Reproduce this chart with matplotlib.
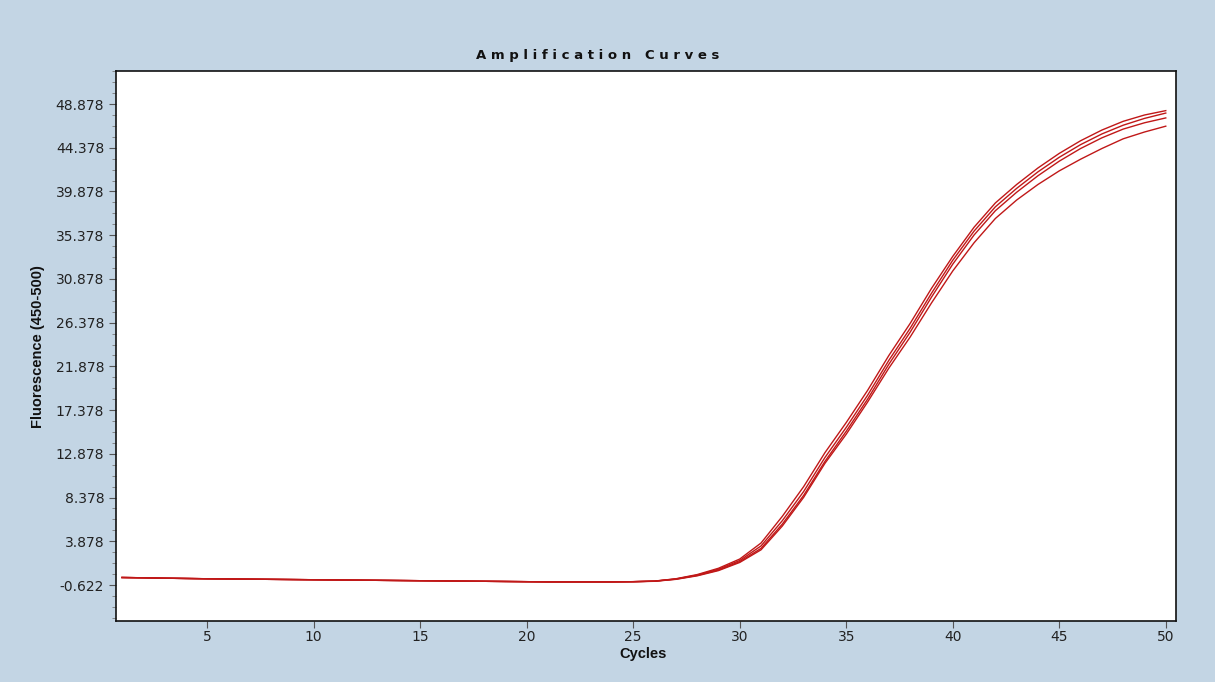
from pathlib import Path

import matplotlib

matplotlib.use("Agg")
import matplotlib.pyplot as plt
from matplotlib.ticker import FixedLocator, MultipleLocator


OUTPUT_FILE = Path("out.png")
BACKGROUND = "#c3d5e4"
CURVE_COLOUR = "#c01818"

cycles = list(range(1, 51))

# fluorescence readings per well, one value per cycle
well_a = [
    0.15, 0.12, 0.08, 0.05, 0.02, 0.00, -0.02, -0.04, -0.06, -0.08,
    -0.10, -0.12, -0.14, -0.16, -0.18, -0.20, -0.22, -0.24, -0.26, -0.28,
    -0.30, -0.30, -0.30, -0.30, -0.28, -0.22, 0.02, 0.45, 1.10, 2.05,
    3.70, 6.45, 9.50, 13.00, 16.10, 19.40, 23.00, 26.30, 29.90, 33.20,
    36.20, 38.70, 40.60, 42.30, 43.80, 45.10, 46.20, 47.10, 47.75, 48.20,
]
well_b = [
    0.15, 0.12, 0.08, 0.05, 0.02, 0.00, -0.02, -0.04, -0.06, -0.08,
    -0.10, -0.12, -0.14, -0.16, -0.18, -0.20, -0.22, -0.24, -0.26, -0.28,
    -0.30, -0.30, -0.30, -0.30, -0.28, -0.22, 0.00, 0.40, 1.00, 1.90,
    3.40, 6.00, 9.00, 12.50, 15.60, 18.90, 22.50, 25.80, 29.40, 32.80,
    35.80, 38.30, 40.20, 41.90, 43.40, 44.70, 45.80, 46.70, 47.40, 47.95,
]
well_c = [
    0.15, 0.12, 0.08, 0.05, 0.02, 0.00, -0.02, -0.04, -0.06, -0.08,
    -0.10, -0.12, -0.14, -0.16, -0.18, -0.20, -0.22, -0.24, -0.26, -0.28,
    -0.30, -0.30, -0.30, -0.30, -0.28, -0.23, -0.02, 0.36, 0.92, 1.78,
    3.15, 5.65, 8.60, 12.10, 15.20, 18.50, 22.10, 25.40, 29.00, 32.40,
    35.40, 37.90, 39.80, 41.50, 43.00, 44.30, 45.40, 46.30, 46.95, 47.45,
]
well_d = [
    0.15, 0.12, 0.08, 0.05, 0.02, 0.00, -0.02, -0.04, -0.06, -0.08,
    -0.10, -0.12, -0.14, -0.16, -0.18, -0.20, -0.22, -0.24, -0.26, -0.28,
    -0.30, -0.30, -0.30, -0.30, -0.28, -0.24, -0.04, 0.32, 0.86, 1.70,
    3.00, 5.45, 8.40, 11.90, 14.90, 18.20, 21.70, 24.90, 28.40, 31.70,
    34.60, 37.10, 39.00, 40.60, 42.00, 43.20, 44.30, 45.30, 46.00, 46.60,
]

y_ticks = [-0.622, 3.878, 8.378, 12.878, 17.378, 21.878, 26.378, 30.878,
           35.378, 39.878, 44.378, 48.878]
x_ticks = [5, 10, 15, 20, 25, 30, 35, 40, 45, 50]


def draw_chart() -> None:
    fig = plt.figure(figsize=(12.15, 6.82), dpi=100, facecolor=BACKGROUND)
    ax = fig.add_axes((0.0955, 0.0894, 0.8724, 0.8065))
    ax.set_facecolor("white")

    for well in (well_a, well_b, well_c, well_d):
        ax.plot(cycles, well, color=CURVE_COLOUR, linewidth=1.0)

    ax.set_xlim(0.72, 50.48)
    ax.set_ylim(-4.33, 52.28)

    ax.xaxis.set_major_locator(FixedLocator(x_ticks))
    ax.set_xticklabels([str(value) for value in x_ticks])
    ax.yaxis.set_major_locator(FixedLocator(y_ticks))
    ax.set_yticklabels([f"{value:.3f}" for value in y_ticks])
    ax.yaxis.set_minor_locator(FixedLocator(
        [y_ticks[0] + step * 1.125 for step in range(-3, 48)]
    ))
    ax.xaxis.set_minor_locator(MultipleLocator(1))

    ax.tick_params(axis="both", which="major", direction="out", length=5,
                   width=0.8, color="#555555", labelsize=10, labelcolor="#222222")
    ax.tick_params(axis="x", which="major", pad=1.5)
    ax.tick_params(axis="y", which="minor", direction="out", length=3,
                   width=0.6, color="#777777")
    ax.tick_params(axis="x", which="minor", length=0)
    for spine in ax.spines.values():
        spine.set_color("#111111")
        spine.set_linewidth(1.2)

    fig.text(0.492, 0.918, "A m p l i f i c a t i o n   C u r v e s",
             ha="center", va="center", fontsize=9.5, fontweight="bold",
             color="#111111")
    fig.text(0.529, 0.041, "Cycles", ha="center", va="center", fontsize=10.5,
             fontweight="bold", color="#111111",
             family=["Liberation Sans Narrow", "Liberation Sans", "DejaVu Sans"])
    fig.text(0.031, 0.492, "Fluorescence (450-500)", ha="center", va="center",
             rotation=90, fontsize=10.5, fontweight="bold", color="#111111",
             family=["Liberation Sans Narrow", "Liberation Sans", "DejaVu Sans"])

    fig.savefig(OUTPUT_FILE, dpi=100, facecolor=BACKGROUND)


def main() -> None:
    draw_chart()


if __name__ == "__main__":
    main()
